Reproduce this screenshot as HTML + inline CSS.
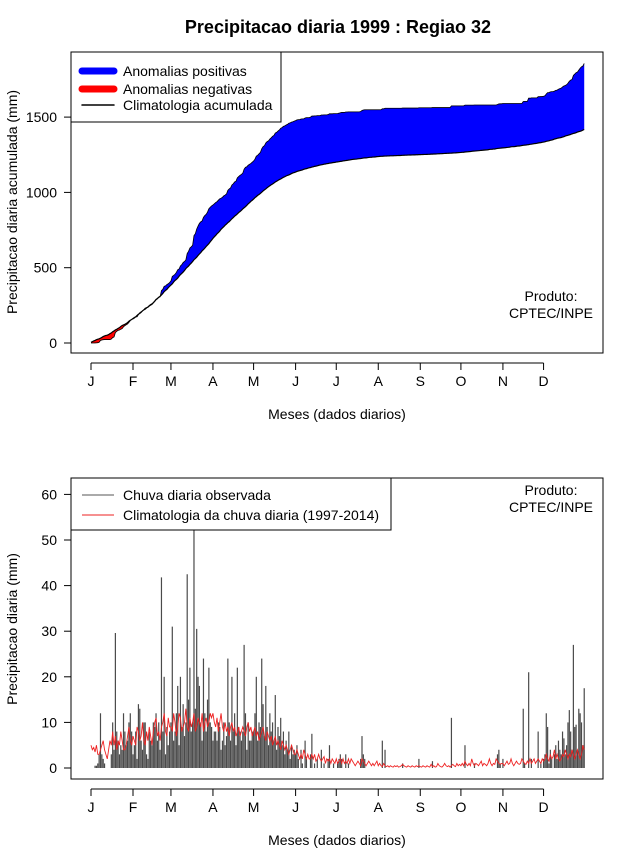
<!DOCTYPE html>
<html><head><meta charset="utf-8"><style>
body{margin:0;background:#fff;}
svg text{font-family:"Liberation Sans",sans-serif;}
</style></head><body>
<svg id="c" width="640" height="850" xmlns="http://www.w3.org/2000/svg">
<text x="338" y="33" text-anchor="middle" font-size="18" font-weight="bold">Precipitacao diaria 1999 : Regiao 32</text>
<g id="topPanel"></g>
<g id="botPanel"></g>
</svg>
<script>
const monthLabels=["J","F","M","A","M","J","J","A","S","O","N","D"];
const monthStartDays=[1,32,60,91,121,152,182,213,244,274,305,335];
const topTicks=[0,500,1000,1500];
const botTicks=[0,10,20,30,40,50,60];
const obsDaily=[
0,0,0,0.5,0.5,1,3,12,3,2,1,0,0,0,0,3,10,4,29.6,8,6,3,5,4,12,8,5,6,10,12,8,
3,5,8,2,14,13,6,4,10,10,3,2,8,6,5,10,9,12,6,10,4,41.8,8,20,3,9,5,8,
10,31,6,8,12,18,5,20,9,14,7,10,42.5,15,22,8,10,64,13,30.5,20,18,10,6,24,12,8,15,22,10,9,
6,8,8,6,10,9,4,6,10,5,7,24,10,6,20,8,12,5,22,9,8,6,8,27,12,4,10,6,6,8,
8,12,20,6,10,9,24,14,7,18,9,5,12,8,10,6,16,4,9,7,11,5,8,3,6,4,8,2,5,3,4,
3,5,2,0,4,1,0,6,2,0,0,3,7.5,0,1,0,2,0,0,4,0,1,0,0,2,5,0,0,1,0,
0,1,2,3,2,0,0,3,0,1,0,0,0,0,0,0,0,0,2,7,3,2,0,0,0,0,0,0,0,0,0,
0,0,0,6,0,4,0,0,0,0,0,0,0,0,0,0,0,0,1,0,0,0,0,0,0,0,0,0,0,0,2,
0,0,0,0,0,0,0,0,0,1.5,0,0,0,0,0,0,0,0,0,0,0,0,0,11,0,0,0,0,0,0,
0,0,0,5,0,0,0,0,0,0,1,0,0,0,0,0,0,0,0,0,0,0,0,0,0,0,0,3,4,1,0,
2,0,0,0,0,0,0,0,0,0,0,0,0,0,0,13,1,0,0,21,0,2,0,0,0,0,8,0,1,0,
2,3,12,9,1,4,2,0,3,5,2,6,4,3,8,6.5,3,5,10,12.7,8,4,27,9,9.5,4,13,12,10,5,17.5];
const climDaily=[
5,4,4.5,3.5,5,3,3,4,5,6,4,3,2,4,6,5,8,5,7,4,6,5,8,6,4,4,5,7,9,6,5,
7,6,5,9,8,6,7,10,6,5,8,6,9,7,5,8,10,11,7,8,6,9,10,12,8,7,11,9,
9,8,12,10,7,9,12,11,8,9,10,13,9,8,11,9,10,12,8,9,11,10,9,12,8,10,11,9,10,12,11,
12,10,9,11,8,10,12,9,8,10,8,9,7,9,10,8,9,7,8,9,7,8,9,8,7,9,10,8,9,7,
8,9,7,8,6,7,8,9,7,6,8,7,6,7,5,6,7,5,6,5,4,6,5,4,5,4,3,4,5,4,3,
3,4,3,2,3,2,4,3,2,3,2,2,3,2,3,1.5,2,3,2,1.5,2,2.5,1,2,1.5,2,1,2,1.5,1,
2,1,1.5,2,1,2,1,1.5,1,2,1,2,1.5,1,0.5,1,1.5,1,0.5,2,1.5,1,0.5,1,1.5,1,0.5,1,0.5,1,1.5,
0.5,1,0.5,0.3,1,0.5,0.3,0.5,0.2,0.5,0.3,0.2,0.5,0.3,0.5,0.2,0.3,0.5,0.8,0.5,0.3,0.2,0.5,0.3,0.2,0.5,0.3,0.2,0.5,0.3,0.5,
0.3,0.2,0.5,0.3,0.2,0.5,0.3,0.2,0.8,0.3,0.5,0.2,0.3,1,0.5,0.3,0.2,0.5,1,0.5,0.3,0.5,0.2,0.5,0.8,0.5,0.3,1,0.5,0.8,
0.5,1,0.5,1.5,0.8,0.5,1,0.5,2,1,0.5,1,0.8,0.5,1,1.5,0.5,1,0.8,0.5,1,2,1,0.5,1,0.8,2,1.5,1,0.8,1,
1,0.5,1,1.5,0.8,1,2,1,0.5,1,1.5,1,0.8,1,2,1.5,1,0.8,1.5,1,2,1,1.5,2,1,1.5,2,1.5,1,2,
1.5,2,3,2,1.5,3,2,2.5,4,2,3,2,1.5,2,3,2.5,4,3,2,3,2.5,4,3,2,3,4,3,2,3,5,4];

const NS="http://www.w3.org/2000/svg";
function mk(parent,tag,attrs,txt){const e=document.createElementNS(NS,tag);for(const k in attrs)e.setAttribute(k,attrs[k]);if(txt!==undefined)e.textContent=txt;parent.appendChild(e);return e;}
const xDay=d=>91+(d-1)*1.355;
const yTop=v=>343-v*0.1506;
const yBot=v=>768-v*4.56;
const FS=14;

function frame(g,y0,y1,axisY,ticks,yf,ylab,ylabY,prodY){
  let r=mk(g,'rect',{x:71,y:y0,width:532,height:y1-y0,fill:'none',stroke:'#000','stroke-width':1});
  
  
  let ax=mk(g,'line',{x1:xDay(1),x2:xDay(monthStartDays[11]),y1:axisY,y2:axisY,stroke:'#000'});
  
  
  monthLabels.forEach((m,i)=>{const x=xDay(monthStartDays[i]);
    mk(g,'line',{x1:x,x2:x,y1:axisY,y2:axisY+7,stroke:'#000'});
    let t=mk(g,'text',{x:x,y:axisY+23,'text-anchor':'middle','font-size':FS},m);
    
    });
  let xt=mk(g,'text',{x:337,y:axisY+56,'text-anchor':'middle','font-size':FS},'Meses (dados diarios)');
  
  
  ticks.forEach(v=>{const y=yf(v);
    mk(g,'line',{x1:64,x2:71,y1:y,y2:y,stroke:'#000'});
    let t=mk(g,'text',{x:57,y:y+5,'text-anchor':'end','font-size':FS},String(v));
    
    });
  let yt=mk(g,'text',{x:0,y:0,'text-anchor':'middle','font-size':FS,transform:`translate(17,${ylabY}) rotate(-90)`},ylab);
  
  
  let p1=mk(g,'text',{x:551,y:prodY,'text-anchor':'middle','font-size':FS},'Produto:');
  
  
  mk(g,'text',{x:551,y:prodY+17,'text-anchor':'middle','font-size':FS},'CPTEC/INPE');
}

// top panel
const topG=document.getElementById('topPanel');
frame(topG,52,353,363,topTicks,yTop,'Precipitacao diaria acumulada (mm)',202,301);
let co=0,cc=0;const cumO=[],cumC=[];
for(let i=0;i<obsDaily.length;i++){co+=obsDaily[i];cc+=climDaily[i]||0;cumO.push(co);cumC.push(cc);}
const nDays=cumO.length;
function poly(fn){let up=[],dn=[];for(let i=0;i<nDays;i++){up.push(xDay(i+1).toFixed(2)+','+yTop(fn(i)).toFixed(2));dn.push(xDay(i+1).toFixed(2)+','+yTop(cumC[i]).toFixed(2));}return up.concat(dn.reverse()).join(' ');}
let pb=mk(topG,'polygon',{points:poly(i=>Math.max(cumO[i],cumC[i])),fill:'#0000ff'});


let pr=mk(topG,'polygon',{points:poly(i=>Math.min(cumO[i],cumC[i])),fill:'#ff0000'});


let lo=mk(topG,'polyline',{points:cumO.map((v,i)=>xDay(i+1).toFixed(2)+','+yTop(v).toFixed(2)).join(' '),fill:'none',stroke:'#000','stroke-width':0.8});


let lc=mk(topG,'polyline',{points:cumC.map((v,i)=>xDay(i+1).toFixed(2)+','+yTop(v).toFixed(2)).join(' '),fill:'none',stroke:'#000','stroke-width':1.2});


let lg=mk(topG,'g',{});


mk(lg,'rect',{x:71,y:52,width:210,height:70,fill:'#fff',stroke:'#000'});
[['#0000ff',7,'Anomalias positivas',71],['#ff0000',7,'Anomalias negativas',89],['#000',1.5,'Climatologia acumulada',105]].forEach(e=>{
  let it=mk(lg,'g',{});
  
  
  mk(it,'line',{x1:82,x2:114,y1:e[3],y2:e[3],stroke:e[0],'stroke-width':e[1],'stroke-linecap':'round'});
  mk(it,'text',{x:123,y:e[3]+5,'font-size':FS},e[2]);});

// bottom panel
const botG=document.getElementById('botPanel');
frame(botG,478,779,789,botTicks,yBot,'Precipitacao diaria (mm)',629,495);
let bars=mk(botG,'g',{});


obsDaily.forEach((v,i)=>{if(v<=0)return;const x=xDay(i+1);
  let b=mk(bars,'line',{x1:x,x2:x,y1:yBot(0),y2:Math.max(478,yBot(v)),stroke:'#4a4a4a','stroke-width':1.2});
  
  });
let cl=mk(botG,'polyline',{points:climDaily.map((v,i)=>xDay(i+1).toFixed(2)+','+yBot(v).toFixed(2)).join(' '),fill:'none',stroke:'#ee2222','stroke-width':0.9});


let lg2=mk(botG,'g',{});


mk(lg2,'rect',{x:71,y:478,width:320,height:52,fill:'#fff',stroke:'#000'});
[['#555','Chuva diaria observada',495],['#ee2222','Climatologia da chuva diaria (1997-2014)',515]].forEach(e=>{
  let it=mk(lg2,'g',{});
  
  
  mk(it,'line',{x1:82,x2:114,y1:e[2],y2:e[2],stroke:e[0],'stroke-width':1});
  mk(it,'text',{x:123,y:e[2]+5,'font-size':FS},e[1]);});
</script>
</body></html>
